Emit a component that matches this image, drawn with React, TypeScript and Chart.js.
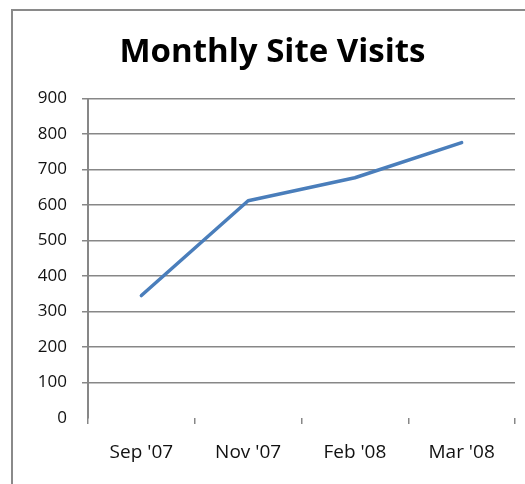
import React, { useEffect, useRef } from "react";
import { Chart, registerables } from "chart.js";

Chart.register(...registerables);

const categories = ["Sep '07", "Nov '07", "Feb '08", "Mar '08"];
const visits = [345, 612, 677, 776];
const yTicks = { min: 0, max: 900, step: 100 };
const titleText = "Monthly Site Visits";

export default function App() {
  const ref = useRef<HTMLCanvasElement | null>(null);

  useEffect(() => {
    if (!ref.current) return;
    const grey = "#878787";
    const chart = new Chart(ref.current, {
      type: "line",
      data: {
        labels: categories,
        datasets: [
          {
            data: visits,
            borderColor: "#4a7ebb",
            backgroundColor: "#4a7ebb",
            borderWidth: 3.5,
            pointRadius: 0,
            tension: 0,
            borderCapStyle: "round",
            borderJoinStyle: "round",
          },
        ],
      },
      options: {
        responsive: false,
        animation: false,
        devicePixelRatio: 1,
        layout: { padding: { left: 30, right: 10, top: 0, bottom: 0 } },
        plugins: {
          legend: { display: false },
          tooltip: { enabled: false },
          title: {
            display: true,
            text: titleText,
            color: "#000",
            font: { family: "'Open Sans'", size: 33, weight: "bold" },
            padding: { top: 33, bottom: 26 },
          },
        },
        scales: {
          x: {
            offset: true,
            grid: {
              offset: true,
              drawOnChartArea: false,
              drawTicks: true,
              tickLength: 6,
              color: grey,
              lineWidth: 1.5,
            },
            border: { display: false },
            ticks: {
              color: "#111",
              font: { family: "'Open Sans'", size: 19 },
              padding: 17,
              maxRotation: 0,
            },
            afterFit: (s: any) => {
              s.height = 66;
            },
          },
          y: {
            min: yTicks.min,
            max: yTicks.max,
            grid: {
              color: (c: any) => (c.tick && c.tick.value === 0 ? "rgba(0,0,0,0)" : grey),
              lineWidth: 1.5,
              tickLength: 6,
              drawTicks: true,
            },
            border: { display: true, color: grey, width: 2 },
            ticks: {
              stepSize: yTicks.step,
              color: "#111",
              font: { family: "'Open Sans'", size: 17 },
              padding: 15,
            },
            afterFit: (s: any) => {
              s.width = 58;
            },
          },
        },
      },
    });
    return () => chart.destroy();
  }, []);

  return (
    <div style={{ position: "fixed", left: 0, top: 0, width: 525, height: 484, background: "#fff", overflow: "hidden" }}>
      <div
        style={{
          position: "absolute",
          left: 11,
          top: 9,
          width: 700,
          height: 700,
          borderLeft: "2px solid #8a8a8a",
          borderTop: "2px solid #8a8a8a",
        }}
      />
      <canvas ref={ref} width={525} height={484} style={{ position: "absolute", left: 0, top: 0 }} />
    </div>
  );
}
